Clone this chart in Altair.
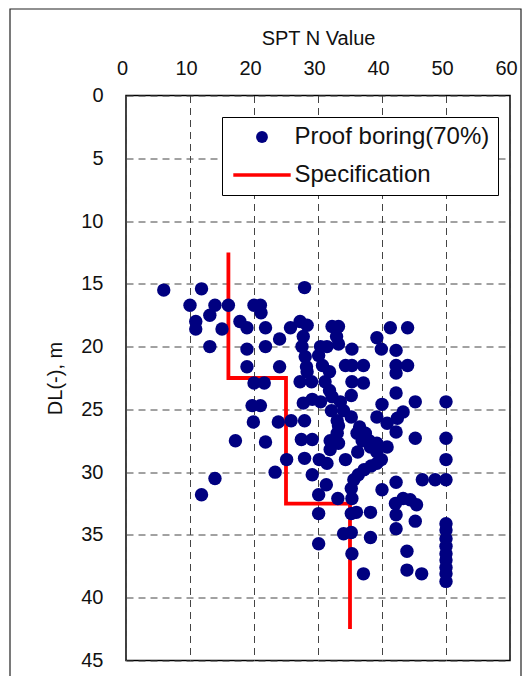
import altair as alt
import pandas as pd

# ---------------- data ----------------
spt_n = [
    5.9, 11.8, 10.0, 13.9, 16.0, 20.0, 21.0, 21.1, 13.1, 10.9, 10.9, 15.0, 17.8, 18.9, 21.8, 24.0,
    25.7, 13.1, 18.9, 21.8, 18.9, 24.0, 20.0, 21.6, 19.7, 21.0, 19.9, 17.1, 21.8, 23.8, 25.8, 25.1,
    23.3, 13.9, 11.8, 27.2,
    27.9, 28.3, 27.7, 27.5, 28.0, 28.2, 28.3, 27.2, 29.0, 30.4, 30.1, 30.7, 31.8, 31.1, 31.4, 31.8,
    32.2, 32.2, 33.2, 32.9, 33.2, 27.7, 29.1, 30.4, 33.5, 27.9, 27.4, 29.1, 32.1, 33.0, 34.0, 31.9,
    33.0, 33.2, 31.9, 27.9, 30.2, 31.4, 34.3, 29.1, 31.3, 30.1, 33.1, 30.1, 30.1, 33.2,
    35.3, 34.3, 35.3, 37.1, 35.3, 37.1, 35.2, 35.2, 36.5, 37.4, 36.1, 36.9, 38.0, 38.2, 36.2, 39.2,
    40.8, 39.2, 39.9, 39.2, 38.3, 37.2, 36.3, 35.6, 35.2, 35.3, 35.2, 36.0, 38.2, 34.0, 35.2, 38.2,
    35.3, 37.1, 39.2, 39.9, 41.3, 44.0, 42.2, 42.2, 44.0, 42.2, 42.2, 40.0, 39.2, 40.8, 42.4, 43.3,
    42.2, 40.0, 42.2, 42.1, 43.3, 44.4, 45.4, 42.2, 45.2, 42.2, 43.9, 43.9, 46.2,
    45.2, 50.0, 45.2, 50.0, 50.0, 46.3, 48.3, 50.0, 50.0, 50.0, 50.0, 50.0, 50.0, 50.0, 50.0, 50.0, 50.0,
]
depth = [
    15.5, 15.4, 16.7, 16.7, 16.7, 16.7, 16.7, 17.3, 17.5, 18.0, 18.6, 18.6, 18.0, 18.5, 18.5, 19.4,
    18.5, 20.0, 20.2, 20.0, 21.6, 21.6, 22.9, 22.9, 24.7, 24.7, 26.0, 27.5, 27.6, 26.0, 25.9, 29.0,
    30.0, 30.5, 31.8, 18.0,
    15.3, 18.3, 19.2, 20.0, 20.8, 21.6, 22.0, 22.8, 22.8, 20.0, 20.7, 21.5, 22.0, 22.8, 20.0, 23.5,
    24.0, 18.4, 18.4, 19.2, 19.8, 24.5, 24.2, 24.4, 24.4, 25.9, 27.4, 27.4, 25.1, 25.9, 25.1, 27.5,
    26.9, 27.7, 28.2, 28.9, 29.0, 29.3, 29.0, 30.2, 31.0, 31.8, 32.1, 33.3, 35.7, 26.3,
    20.2, 21.5, 21.5, 21.5, 22.8, 22.9, 23.9, 25.6, 26.4, 26.9, 26.9, 27.5, 27.5, 28.0, 28.4, 27.7,
    28.0, 28.4, 29.0, 29.3, 29.5, 29.8, 30.2, 30.6, 31.3, 32.1, 33.3, 33.2, 33.2, 34.9, 34.8, 35.2,
    36.5, 38.1, 19.3, 20.2, 18.5, 18.5, 20.3, 21.5, 21.5, 22.1, 23.7, 24.6, 25.6, 26.1, 25.7, 25.2,
    26.8, 31.4, 30.8, 32.5, 32.1, 32.2, 32.6, 33.4, 33.9, 34.5, 36.3, 37.8, 38.1,
    24.4, 24.4, 27.3, 27.3, 29.0, 30.6, 30.6, 30.6, 34.1, 34.6, 35.3, 35.9, 36.5, 37.0, 37.6, 38.1, 38.7,
]
spec_n = [16, 16, 25, 25, 35, 35]
spec_depth = [12.5, 22.5, 22.5, 32.5, 32.5, 42.5]
series_names = ["Proof boring(70%)", "Specification"]
x_ticks = [0, 10, 20, 30, 40, 50, 60]
y_ticks = [0, 5, 10, 15, 20, 25, 30, 35, 40, 45]

pts = pd.DataFrame({"N": spt_n, "DL": depth})
pts["series"] = series_names[0]
spec = pd.DataFrame({"N": spec_n, "DL": spec_depth, "order": list(range(len(spec_n)))})

FONT = "Liberation Sans"
TXT = "#111111"
LINE_PATH = "M-4.85,-0.3H4.85V0.3H-4.85Z"

x_scale = alt.Scale(domain=[0, 60], nice=False, zero=False)
y_scale = alt.Scale(domain=[0, 45], reverse=True, nice=False, zero=False)

x_axis = alt.Axis(
    orient="top", values=x_ticks, title="SPT N Value", grid=True, gridDash=[7, 5],
    gridColor="#444444", gridWidth=1, ticks=False, tickSize=0, domain=False,
    labelFont=FONT, labelFontSize=20, labelColor=TXT, labelPadding=17, labelFlush=False,
    labelOffset=-4, titleFont=FONT, titleFontSize=20, titleFontWeight="normal",
    titleColor=TXT, titlePadding=10,
)
y_axis = alt.Axis(
    values=y_ticks, title="DL(-), m", grid=True, gridDash=[7, 5], gridColor="#444444",
    gridWidth=1, ticks=False, tickSize=0, domain=False, labelFont=FONT, labelFontSize=20,
    labelColor=TXT, labelPadding=23, labelFlush=False, titleFont=FONT, titleFontSize=20,
    titleFontWeight="normal", titleColor=TXT, titlePadding=15,
)

legend = alt.Legend(
    title=None, orient="none", legendX=96, legendY=21.5, direction="vertical",
    labelFont=FONT, labelFontSize=24, labelColor=TXT, labelOffset=20.5, labelLimit=400,
    symbolOffset=20, symbolSize=140, symbolStrokeWidth=0, symbolOpacity=1,
    rowPadding=14, padding=8, strokeColor="#000000", fillColor="#ffffff",
)

frame = alt.Chart(alt.Data(values=[{"f": 1}])).mark_rect(
    filled=False, stroke="#222222", strokeWidth=1.2
).encode(
    x=alt.value(-116), x2=alt.value(395), y=alt.value(-86.5), y2=alt.value(700)
)

line = alt.Chart(spec).mark_line(color="#ff0000", strokeWidth=3.8).encode(
    x=alt.X("N:Q", scale=x_scale, axis=x_axis),
    y=alt.Y("DL:Q", scale=y_scale, axis=y_axis),
    order="order:Q",
)

points = alt.Chart(pts).mark_point(filled=True, size=180, opacity=1, strokeWidth=0).encode(
    x=alt.X("N:Q", scale=x_scale, axis=x_axis),
    y=alt.Y("DL:Q", scale=y_scale, axis=y_axis),
    color=alt.Color("series:N", scale=alt.Scale(domain=series_names, range=["#000080", "#ff0000"]), legend=legend),
    shape=alt.Shape("series:N", scale=alt.Scale(domain=series_names, range=["circle", LINE_PATH]), legend=legend),
)

chart = alt.layer(frame, line, points).properties(
    width=384, height=565,
    autosize=alt.AutoSizeParams(type="none"),
    padding={"left": 118, "top": 87.5, "right": 13, "bottom": 15},
    background="white",
).configure_view(stroke="#000000", strokeWidth=1.5)

chart.save("out.html", embed_options={"renderer": "svg", "actions": False})
